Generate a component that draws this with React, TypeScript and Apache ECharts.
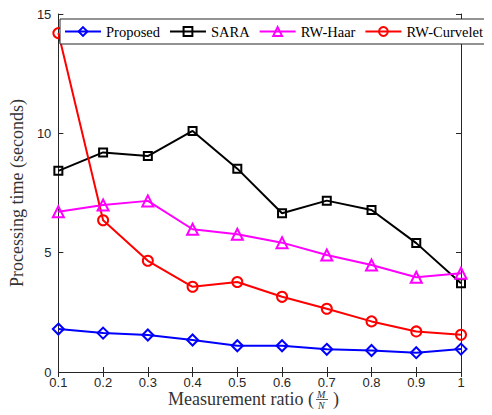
import React, { useEffect, useRef } from "react";
import * as echarts from "echarts";

const categories = ["0.1", "0.2", "0.3", "0.4", "0.5", "0.6", "0.7", "0.8", "0.9", "1"];
const proposed = [1.8, 1.63, 1.55, 1.34, 1.1, 1.1, 0.95, 0.9, 0.81, 0.96];
const sara = [8.43, 9.2, 9.05, 10.1, 8.52, 6.65, 7.18, 6.79, 5.4, 3.72];
const rwHaar = [6.71, 7.0, 7.17, 5.98, 5.77, 5.42, 4.9, 4.48, 3.97, 4.14];
const rwCurvelet = [14.2, 6.36, 4.66, 3.57, 3.77, 3.15, 2.65, 2.12, 1.7, 1.56];
const yTicks = { min: 0, max: 15, interval: 5 };

const axisColor = "#262626";
const serif = "'Liberation Serif', 'DejaVu Serif', serif";
const sans = "'Liberation Sans', Arial, sans-serif";

function mkSeries(name: string, data: number[], color: string, symbol: string, size: number) {
  return {
    name,
    type: "line",
    data,
    xAxisIndex: 0,
    yAxisIndex: 0,
    symbol,
    symbolSize: size,
    lineStyle: { color, width: 2 },
    itemStyle: { color: "rgba(255,255,255,0)", borderColor: color, borderWidth: 2 },
    emphasis: { disabled: true },
  };
}

export default function App() {
  const ref = useRef<HTMLDivElement>(null);
  useEffect(() => {
    if (!ref.current) return;
    const chart = echarts.init(ref.current, null, { renderer: "svg" });
    chart.setOption({
      animation: false,
      backgroundColor: "#ffffff",
      grid: { left: 52, right: 31, top: 14, bottom: 43, containLabel: false },
      legend: {
        left: 60,
        top: 19,
        width: 430,
        orient: "horizontal",
        backgroundColor: "#ffffff",
        borderColor: axisColor,
        borderWidth: 1,
        padding: [5, 4, 5, 4],
        itemWidth: 36,
        itemHeight: 11,
        itemGap: 9,
        textStyle: { fontFamily: serif, fontSize: 14.5, color: "#000" },
        data: ["Proposed", "SARA", "RW-Haar", "RW-Curvelet"],
      },
      xAxis: [
        {
          type: "category",
          data: categories,
          boundaryGap: false,
          position: "bottom",
          axisLine: { lineStyle: { color: axisColor, width: 1 } },
          axisTick: { inside: true, length: 5, lineStyle: { color: axisColor } },
          axisLabel: { color: axisColor, fontFamily: sans, fontSize: 13, lineHeight: 11, margin: 5 },
          splitLine: { show: false },
        },
        {
          type: "category",
          data: categories,
          boundaryGap: false,
          position: "top",
          axisLine: { lineStyle: { color: axisColor, width: 1 } },
          axisTick: { inside: true, length: 5, lineStyle: { color: axisColor } },
          axisLabel: { show: false },
          splitLine: { show: false },
        },
      ],
      yAxis: [
        {
          type: "value",
          min: yTicks.min,
          max: yTicks.max,
          interval: yTicks.interval,
          position: "left",
          axisLine: { show: true, lineStyle: { color: axisColor, width: 1 } },
          axisTick: { show: true, inside: true, length: 5, lineStyle: { color: axisColor } },
          axisLabel: { color: axisColor, fontFamily: sans, fontSize: 13, margin: 7 },
          splitLine: { show: false },
          name: "Processing time (seconds)",
          nameLocation: "middle",
          nameGap: 25,
          nameTextStyle: { fontFamily: serif, fontSize: 18, color: "#333" },
        },
        {
          type: "value",
          min: yTicks.min,
          max: yTicks.max,
          interval: yTicks.interval,
          position: "right",
          axisLine: { show: true, lineStyle: { color: axisColor, width: 1 } },
          axisTick: { show: true, inside: true, length: 5, lineStyle: { color: axisColor } },
          axisLabel: { show: false },
          splitLine: { show: false },
        },
      ],
      series: [
        mkSeries("Proposed", proposed, "#0000ff", "diamond", 11),
        mkSeries("SARA", sara, "#000000", "rect", 8),
        mkSeries("RW-Haar", rwHaar, "#ff00ff", "triangle", 11),
        mkSeries("RW-Curvelet", rwCurvelet, "#ff0000", "circle", 10),
      ],
      graphic: [
        {
          type: "group",
          left: 168,
          top: 389,
          children: [
            {
              type: "text",
              x: 0,
              y: 1,
              style: { text: "Measurement ratio (", font: `18px ${serif}`, lineHeight: 16, fill: "#333" },
            },
            {
              type: "text",
              x: 149,
              y: 0,
              style: { text: "M", font: `italic 10px ${serif}`, lineHeight: 9, fill: "#333" },
            },
            {
              type: "line",
              shape: { x1: 148, y1: 10, x2: 160, y2: 10 },
              style: { stroke: "#333", lineWidth: 0.8 },
            },
            {
              type: "text",
              x: 150,
              y: 11,
              style: { text: "N", font: `italic 10px ${serif}`, lineHeight: 9, fill: "#333" },
            },
            {
              type: "text",
              x: 165,
              y: 1,
              style: { text: ")", font: `18px ${serif}`, lineHeight: 16, fill: "#333" },
            },
          ],
        },
      ],
    });
    return () => chart.dispose();
  }, []);
  return <div ref={ref} style={{ width: 492, height: 415, marginLeft: -8, marginTop: -8 }} />;
}
